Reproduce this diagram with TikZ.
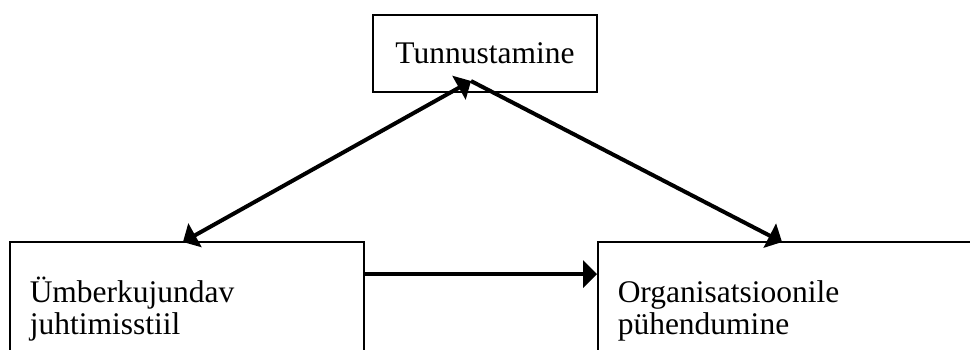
\documentclass[tikz,border=0pt]{standalone}
\usepackage{fontspec}
\setmainfont{Liberation Serif}
\usetikzlibrary{arrows}

\begin{document}
\begin{tikzpicture}[
     x=1pt,y=-1pt,
     font=\fontsize{31.5}{32}\selectfont,
     factor/.style={draw,line width=1.5pt,inner sep=0pt},
     lowbox/.style={factor,anchor=north west,align=left,
       inner xsep=20pt,inner ysep=41pt,text height=20pt,text depth=40pt},
     link/.style={line width=4pt}
   ]
   \path[use as bounding box] (0,0) rectangle (970,349);
   % Factors.
   \node[factor,minimum width=224pt,minimum height=77pt] (tunn) at (485,53.5) {Tunnustamine};
   \node[lowbox,text width=314pt] (jst) at (9,241) {Ümberkujundav\\juhtimisstiil};
   \node[lowbox,text width=380pt] (pyh) at (597,241) {Organisatsioonile\\pühendumine};
   % Arrow ends.
   \coordinate (apex) at (471,81);
   \coordinate (jsttop) at (183,242);
   \coordinate (pyhtop) at (782,242);
   % Links.
   \draw[link,triangle 90-triangle 90] (jsttop) -- (apex);
   \draw[link,-triangle 90] (apex) -- (pyhtop);
   \draw[link,-triangle 90] (jst.east |- 0,274) -- (pyh.west |- 0,274);
 \end{tikzpicture}
\end{document}
